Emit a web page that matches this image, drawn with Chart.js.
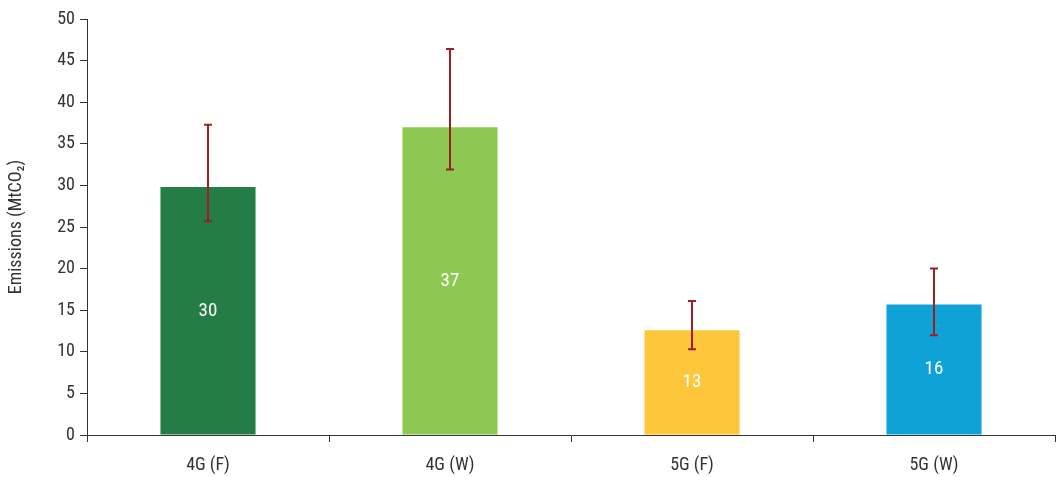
<!DOCTYPE html>
<html>
<head>
<meta charset="utf-8">
<script src="https://cdn.jsdelivr.net/npm/chart.js@4/dist/chart.umd.min.js"></script>
<style>
  html, body { margin: 0; padding: 0; background: #fff; }
  #wrap { width: 1062px; height: 477px; }
</style>
</head>
<body>
<div id="wrap"><canvas id="chart"></canvas></div>
<script>
// data
const categories = ['4G (F)', '4G (W)', '5G (F)', '5G (W)'];
const emissions = [29.8, 37.0, 12.6, 15.7];
const errLow = [25.7, 31.9, 10.3, 12.0];
const errHigh = [37.3, 46.4, 16.1, 20.0];
const barColors = ['#257d46', '#8dc853', '#fec63a', '#0ea2d6'];
const yTicks = [0, 5, 10, 15, 20, 25, 30, 35, 40, 45, 50];

const fontFamily = '"Liberation Sans Narrow", "Roboto Condensed", Roboto, sans-serif';

// draws the error bars and the value labels inside each bar
const barExtras = {
  id: 'barExtras',
  afterDatasetsDraw(chart) {
    const ctx = chart.ctx;
    const meta = chart.getDatasetMeta(0);
    const y = chart.scales.y;
    ctx.save();
    meta.data.forEach((bar, i) => {
      // value label, centred in the bar
      const mid = (bar.y + bar.base) / 2;
      ctx.fillStyle = '#ffffff';
      ctx.font = '19px ' + fontFamily;
      ctx.textAlign = 'center';
      ctx.textBaseline = 'middle';
      ctx.fillText(String(Math.round(emissions[i])), bar.x, mid);

      // error bar
      const top = y.getPixelForValue(errHigh[i]);
      const bot = y.getPixelForValue(errLow[i]);
      ctx.strokeStyle = '#9e1f23';
      ctx.lineWidth = 2;
      ctx.beginPath();
      ctx.moveTo(bar.x, top);
      ctx.lineTo(bar.x, bot);
      ctx.moveTo(bar.x - 4, top);
      ctx.lineTo(bar.x + 4, top);
      ctx.moveTo(bar.x - 4, bot);
      ctx.lineTo(bar.x + 4, bot);
      ctx.stroke();
    });
    ctx.restore();
  }
};

new Chart(document.getElementById('chart'), {
  type: 'bar',
  data: {
    labels: categories,
    datasets: [{
      data: emissions,
      backgroundColor: barColors,
      borderWidth: 0,
      barPercentage: 0.393,
      categoryPercentage: 1.0
    }]
  },
  options: {
    responsive: true,
    maintainAspectRatio: false,
    animation: false,
    devicePixelRatio: 1,
    layout: { padding: { top: 19, right: 7, bottom: 0, left: 2 } },
    plugins: {
      legend: { display: false },
      tooltip: { enabled: false }
    },
    scales: {
      x: {
        afterFit(scale) {
          scale.height = 42;
        },
        grid: {
          display: true,
          offset: true,
          drawOnChartArea: false,
          drawTicks: true,
          tickLength: 7,
          color: '#333333'
        },
        border: { display: true, color: '#333333', width: 1 },
        ticks: {
          color: '#333333',
          font: { family: fontFamily, size: 18 },
          padding: 13
        }
      },
      y: {
        min: 0,
        max: 50,
        afterBuildTicks(scale) {
          scale.ticks = yTicks.map(v => ({ value: v }));
        },
        afterFit(scale) {
          scale.width = 85;
        },
        grid: {
          display: true,
          drawOnChartArea: false,
          drawTicks: true,
          tickLength: 7,
          color: '#333333'
        },
        border: { display: true, color: '#333333', width: 1 },
        ticks: {
          color: '#333333',
          font: { family: fontFamily, size: 18 },
          padding: 5
        },
        title: {
          display: true,
          text: 'Emissions (MtCO₂)',
          color: '#333333',
          font: { family: fontFamily, size: 18 },
          padding: { top: 4, bottom: 0 }
        }
      }
    }
  },
  plugins: [barExtras]
});
</script>
</body>
</html>
